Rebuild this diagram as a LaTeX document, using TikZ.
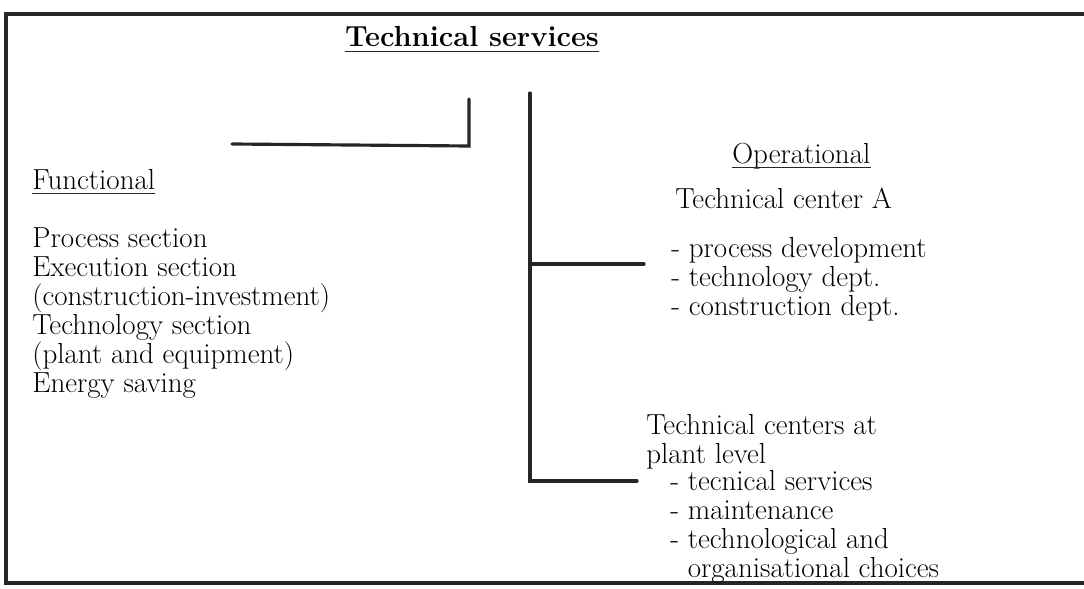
\documentclass[tikz,border=0pt]{standalone}
\usepackage{fontspec}
\usepackage{tikz}
\usetikzlibrary{positioning}
\tikzstyle{txt} = [inner sep=0pt, font=\fontsize{16.5}{16.4}\selectfont, align=left]
\tikzstyle{head} = [inner sep=0pt, font=\bfseries\fontsize{16.5}{16.4}\selectfont]
\tikzstyle{line} = [draw, line width=1.8pt, color=black!85, line cap=round]
\tikzstyle{uline} = [draw, line width=0.9pt, color=black!85]

\begin{document}
\begin{tikzpicture}[x=0.02cm, y=-0.02cm]
		\useasboundingbox (0,0) rectangle (1084,588);
		% Frame
		\draw[line, line cap=butt] (1084,14) -- (6,14) -- (6,583) -- (1084,583);
		% Place nodes (multi-line nodes sit on their last baseline)
		\node [head, anchor=base] (tech) at (472,47) {Technical services};
		\node [txt, anchor=base west] (func) at (32,189) {Functional};
		\node [txt, anchor=base west] (funclist) at (32,392) {Process section\\Execution section\\(construction-investment)\\Technology section\\(plant and equipment)\\Energy saving};
		\node [txt, anchor=base west] (oper) at (732,163) {Operational};
		\node [txt, anchor=base west] (centerA) at (675,208) {Technical center A};
		\node [txt, anchor=base west] (alist) at (671,315) {- process development\\- technology dept.\\- construction dept.};
		\node [txt, anchor=base west] (plant) at (646,463) {Technical centers at\\plant level};
		\node [txt, anchor=base west] (plist) at (670,577) {- tecnical services\\- maintenance\\- technological and\\\phantom{- }organisational choices};
		% Underlines
		\draw[uline] ([yshift=-2.5pt]tech.base west) -- ([yshift=-2.5pt]tech.base east);
		\draw[uline] ([yshift=-2.5pt]func.base west) -- ([yshift=-2.5pt]func.base east);
		\draw[uline] ([yshift=-2.5pt]oper.base west) -- ([yshift=-2.5pt]oper.base east);
		% Draw edges
		\coordinate (lend) at (232,144);
		\coordinate (lcorner) at (469,146);
		\coordinate (ltop) at (469,99);
		\coordinate (rtop) at (530,93);
		\coordinate (rmid) at (530,264);
		\coordinate (rbot) at (530,481);
		\coordinate (aend) at (644,264);
		\coordinate (pend) at (637,481);
		\path [line] (lend) -- (lcorner) -- (ltop);
		\path [line] (rtop) -- (rbot) -- (pend);
		\path [line] (rmid) -- (aend);
	\end{tikzpicture}
\end{document}
